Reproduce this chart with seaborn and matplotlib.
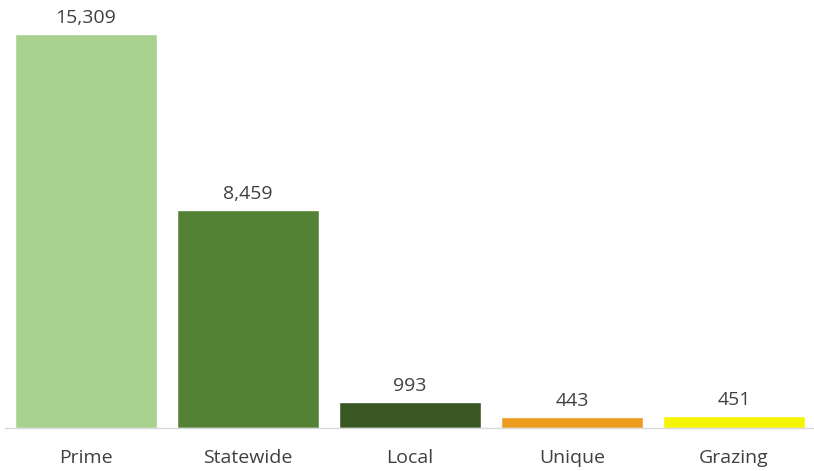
import matplotlib
matplotlib.use("Agg")
import matplotlib.pyplot as plt
import seaborn as sns
import pandas as pd

categories = ["Prime", "Statewide", "Local", "Unique", "Grazing"]
values = [15309, 8459, 993, 443, 451]
colors = ["#A9D18E", "#548235", "#385723", "#ED9C1F", "#F5F500"]

sns.set_theme(style="white")
plt.rcParams['font.family'] = ['Open Sans', 'DejaVu Sans']

df = pd.DataFrame({"cat": categories, "val": values})

fig = plt.figure(figsize=(8.14, 4.71), dpi=100)
ax = fig.add_axes([5/814, 43/471, 810/814, (428-16.2)/471])
sns.barplot(data=df, x="cat", y="val", hue="cat", palette=colors, legend=False,
            width=142/162, ax=ax, saturation=1)
ax.set_xlim(-0.5, 4.5)
ax.set_ylim(0, 16000)
ax.set_xlabel("")
ax.set_ylabel("")
ax.set_yticks([])
for s in ["top", "right", "left"]:
    ax.spines[s].set_visible(False)
ax.spines["bottom"].set_color("#D9D9D9")
ax.spines["bottom"].set_linewidth(1.0)
ax.tick_params(axis="x", length=0, pad=15, labelsize=14, labelcolor="#404040")
for i, v in enumerate(values):
    ax.annotate(f"{v:,}", (i, v), xytext=(0, 5), textcoords="offset points",
                ha="center", va="bottom", fontsize=14, color="#404040")
fig.savefig("out.png", dpi=100)
